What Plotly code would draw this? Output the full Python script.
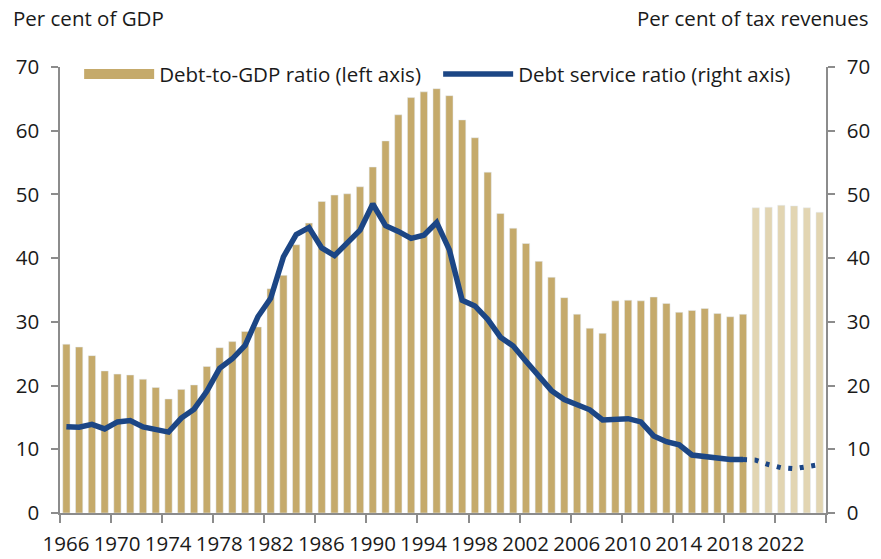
import plotly.graph_objects as go

years = list(range(1966, 2026))
debt_gdp = [26.5, 26.05, 24.7, 22.3, 21.8, 21.66, 21.0, 19.7, 17.9, 19.4,
            20.1, 23.0, 25.95, 26.9, 28.5, 29.2, 35.2, 37.3, 42.1, 45.5,
            48.9, 49.9, 50.1, 51.2, 54.3, 58.4, 62.5, 65.2, 66.1, 66.6,
            65.5, 61.7, 58.9, 53.5, 47.0, 44.7, 42.3, 39.5, 37.0, 33.8,
            31.2, 29.0, 28.2, 33.3, 33.4, 33.3, 33.9, 32.9, 31.5, 31.8,
            32.1, 31.3, 30.8, 31.2, 47.9, 48.0, 48.3, 48.2, 47.9, 47.2]
projection_start = 2020

service_years = list(range(1966, 2020))
service = [13.55, 13.45, 13.9, 13.2, 14.3, 14.5, 13.5, 13.0, 12.7, 14.9,
           16.3, 19.1, 22.7, 24.2, 26.3, 30.8, 33.7, 40.2, 43.7, 44.8,
           41.6, 40.4, 42.4, 44.4, 48.5, 45.1, 44.2, 43.1, 43.6, 45.6,
           41.3, 33.4, 32.5, 30.4, 27.6, 26.2, 23.8, 21.4, 19.2, 17.8,
           16.9, 16.2, 14.6, 14.6, 14.8, 14.3, 12.1, 11.2, 10.7, 9.1,
           8.8, 8.5, 8.4, 8.4]
proj_years = list(range(2019, 2026))
proj_service = [8.4, 8.3, 7.6, 7.1, 6.95, 7.2, 7.6]

tick_labels = [str(y) for y in range(1966, 2023, 4)]

GOLD = "#c5aa6b"
GOLD_LIGHT = "#e2d5b2"
BLUE = "#1c4685"
AXIS = "#8c8c8c"
FONT = "Open Sans"
FS = 20.5

hist_x = [y for y in years if y < projection_start]
hist_v = [v for y, v in zip(years, debt_gdp) if y < projection_start]
proj_x = [y for y in years if y >= projection_start]
proj_v = [v for y, v in zip(years, debt_gdp) if y >= projection_start]

fig = go.Figure()
fig.add_trace(go.Bar(x=hist_x, y=hist_v, marker_color=GOLD, width=0.57,
                     showlegend=False, yaxis="y"))
fig.add_trace(go.Bar(x=proj_x, y=proj_v, marker_color=GOLD_LIGHT, width=0.57,
                     showlegend=False, yaxis="y"))
fig.add_trace(go.Scatter(x=service_years, y=service, mode="lines",
                         line=dict(color=BLUE, width=5.5), showlegend=False,
                         yaxis="y2"))
fig.add_trace(go.Scatter(x=proj_years, y=proj_service, mode="lines",
                         line=dict(color=BLUE, width=5, dash="4px,7.6px"),
                         showlegend=False, yaxis="y2"))
# legend entries
fig.add_trace(go.Scatter(x=[None], y=[None], mode="lines",
                         line=dict(color=GOLD, width=13),
                         name="Debt-to-GDP ratio (left axis)"))
fig.add_trace(go.Scatter(x=[None], y=[None], mode="lines",
                         line=dict(color=BLUE, width=5.5),
                         name="Debt service ratio (right axis)"))

bounds = [1965.5 + 4 * k for k in range(16)]
texts = tick_labels + [""]

fig.update_layout(
    width=881, height=559,
    margin=dict(l=60, r=55, t=67, b=46, autoexpand=False),
    paper_bgcolor="white", plot_bgcolor="white",
    font=dict(family=FONT, size=FS, color="#1a1a1a"),
    barmode="overlay",
    showlegend=True,
    legend=dict(orientation="h", x=0.025, y=0.984, xanchor="left", yanchor="middle",
                itemwidth=70, entrywidth=274, font=dict(size=FS),
                bgcolor="rgba(0,0,0,0)", traceorder="normal"),
    xaxis=dict(range=[1965.5, 2025.5], tickmode="array", tickvals=bounds,
               ticktext=texts, ticks="outside", ticklen=8, tickcolor=AXIS,
               tickwidth=1.5, showline=True, linecolor=AXIS, linewidth=1.5,
               showgrid=False, zeroline=False, ticklabelshift=6,
               ticklabelstandoff=4, tickfont=dict(size=FS), automargin=False),
    yaxis=dict(range=[0, 70], dtick=10, ticks="outside", ticklen=7,
               tickcolor=AXIS, tickwidth=1.5, showline=True, linecolor=AXIS,
               linewidth=1.5, showgrid=False, zeroline=False,
               ticklabelstandoff=8, automargin=False),
    yaxis2=dict(range=[0, 70], dtick=10, ticks="outside", ticklen=7,
                tickcolor=AXIS, tickwidth=1.5, showline=True, linecolor=AXIS,
                linewidth=1.5, showgrid=False, zeroline=False,
                overlaying="y", side="right", ticklabelstandoff=8,
                automargin=False),
    annotations=[
        dict(text="Per cent of GDP", xref="paper", yref="paper",
             x=-0.064, y=1.0, yshift=49, xanchor="left", yanchor="middle",
             showarrow=False, font=dict(size=FS)),
        dict(text="Per cent of tax revenues", xref="paper", yref="paper",
             x=1.058, y=1.0, yshift=49, xanchor="right", yanchor="middle",
             showarrow=False, font=dict(size=FS)),
    ],
)

fig.write_html("out.html", config={"displayModeBar": False},
               post_script="document.body.style.margin='0';document.body.style.padding='0';")
